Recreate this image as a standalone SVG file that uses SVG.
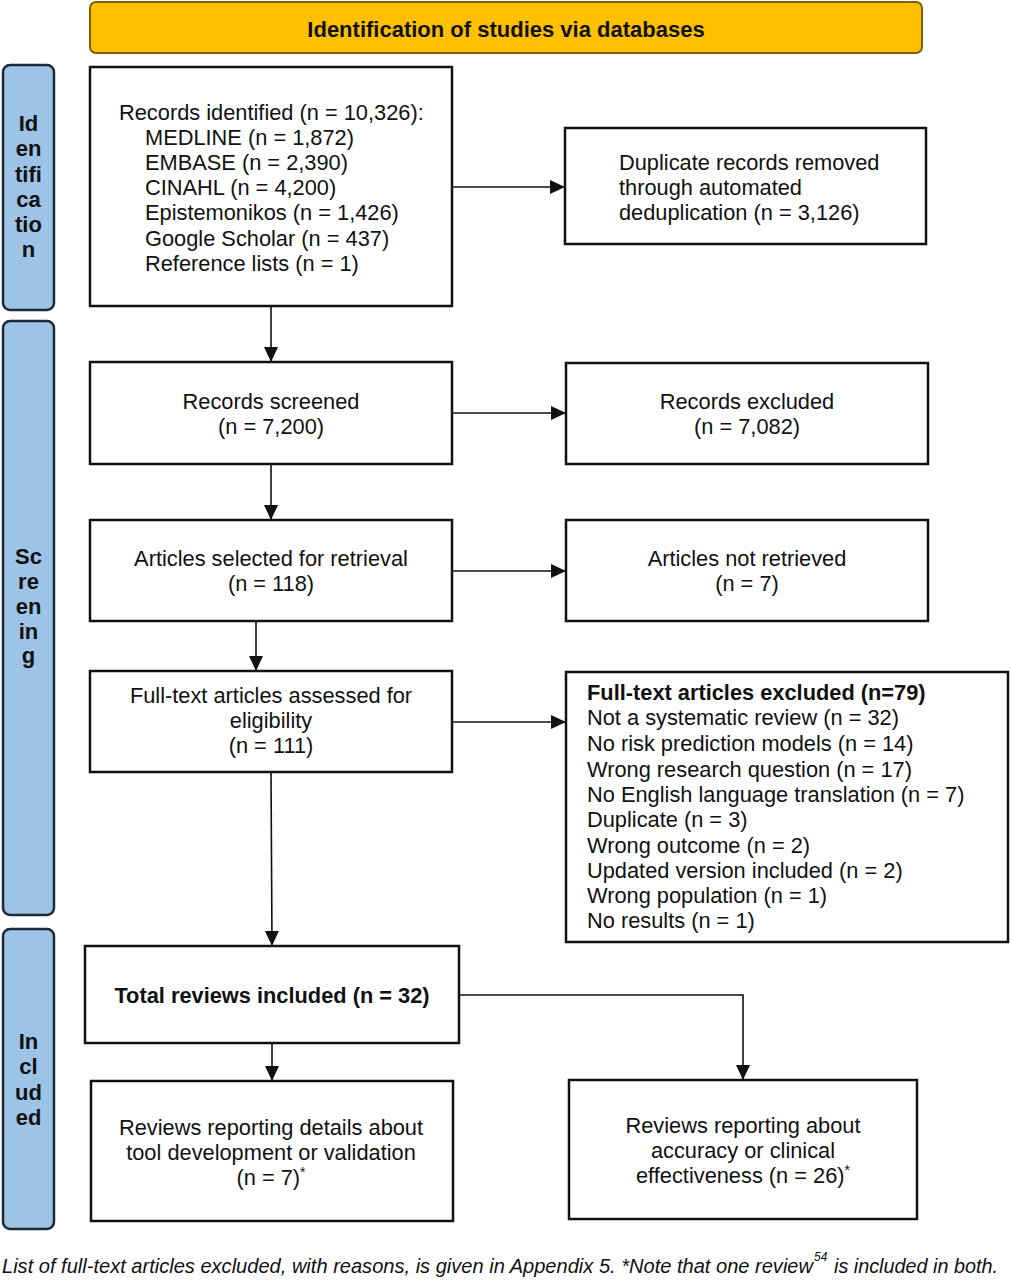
<svg xmlns="http://www.w3.org/2000/svg" width="1011" height="1280" viewBox="0 0 1011 1280">
<style>
  .box { fill: #ffffff; stroke: #111111; stroke-width: 2.5; }
  .side { fill: #9DC3E6; stroke: #1E2A38; stroke-width: 2.5; }
  .hdr { fill: #FFC000; stroke: #7F6000; stroke-width: 2; }
  .t { font-family: "Liberation Sans", Arial, sans-serif; font-size: 21.8px; fill: #111111; }
  .c { text-anchor: middle; }
  .b { font-weight: bold; }
  .sl { font-family: "Liberation Sans", Arial, sans-serif; font-size: 22px; font-weight: bold; fill: #111111; text-anchor: middle; }
  .conn { fill: none; stroke: #111111; stroke-width: 1.6; }
  .fn { font-family: "Liberation Sans", Arial, sans-serif; font-style: italic; font-size: 20px; fill: #111111; }
</style>
<defs>
  <marker id="ah" markerUnits="userSpaceOnUse" markerWidth="16" markerHeight="16" viewBox="0 0 16 16" refX="15" refY="8" orient="auto">
    <path d="M0,1 L15,8 L0,15 Z" fill="#111111"/>
  </marker>
</defs>

<g id="header">
  <rect class="hdr" x="90" y="2" width="832" height="51" rx="6"/>
  <text class="t b c" x="506" y="37" style="font-size:22px">Identification of studies via databases</text>
</g>

<g id="label-identification">
  <rect class="side" x="3" y="65" width="51" height="245" rx="7"/>
  <text class="sl" x="28.5" y="131">Id</text>
  <text class="sl" x="28.5" y="156">en</text>
  <text class="sl" x="28.5" y="182">tifi</text>
  <text class="sl" x="28.5" y="207">ca</text>
  <text class="sl" x="28.5" y="232">tio</text>
  <text class="sl" x="28.5" y="257">n</text>
</g>

<g id="label-screening">
  <rect class="side" x="3" y="321" width="51" height="594" rx="7"/>
  <text class="sl" x="28.5" y="564">Sc</text>
  <text class="sl" x="28.5" y="589">re</text>
  <text class="sl" x="28.5" y="614">en</text>
  <text class="sl" x="28.5" y="639">in</text>
  <text class="sl" x="28.5" y="663">g</text>
</g>

<g id="label-included">
  <rect class="side" x="3" y="929" width="51" height="300" rx="7"/>
  <text class="sl" x="28.5" y="1049">In</text>
  <text class="sl" x="28.5" y="1074">cl</text>
  <text class="sl" x="28.5" y="1100">ud</text>
  <text class="sl" x="28.5" y="1125">ed</text>
</g>

<g id="records-identified">
  <rect class="box" x="90" y="67" width="362" height="239"/>
  <text class="t" x="119" y="120">Records identified (n = 10,326):</text>
  <text class="t" x="145" y="145">MEDLINE (n = 1,872)</text>
  <text class="t" x="145" y="170">EMBASE (n = 2,390)</text>
  <text class="t" x="145" y="195">CINAHL (n = 4,200)</text>
  <text class="t" x="145" y="220">Epistemonikos (n = 1,426)</text>
  <text class="t" x="145" y="246">Google Scholar (n = 437)</text>
  <text class="t" x="145" y="271">Reference lists (n = 1)</text>
</g>

<g id="duplicates-removed">
  <rect class="box" x="565" y="128" width="361" height="116"/>
  <text class="t" x="619" y="170">Duplicate records removed</text>
  <text class="t" x="619" y="195">through automated</text>
  <text class="t" x="619" y="220">deduplication (n = 3,126)</text>
</g>

<g id="records-screened">
  <rect class="box" x="90" y="362" width="362" height="102"/>
  <text class="t c" x="271" y="409">Records screened</text>
  <text class="t c" x="271" y="434">(n = 7,200)</text>
</g>

<g id="records-excluded">
  <rect class="box" x="566" y="363" width="362" height="101"/>
  <text class="t c" x="747" y="409">Records excluded</text>
  <text class="t c" x="747" y="434">(n = 7,082)</text>
</g>

<g id="articles-selected">
  <rect class="box" x="90" y="520" width="362" height="101"/>
  <text class="t c" x="271" y="566">Articles selected for retrieval</text>
  <text class="t c" x="271" y="591">(n = 118)</text>
</g>

<g id="articles-not-retrieved">
  <rect class="box" x="566" y="520" width="362" height="101"/>
  <text class="t c" x="747" y="566">Articles not retrieved</text>
  <text class="t c" x="747" y="591">(n = 7)</text>
</g>

<g id="fulltext-assessed">
  <rect class="box" x="90" y="671" width="362" height="101"/>
  <text class="t c" x="271" y="703">Full-text articles assessed for</text>
  <text class="t c" x="271" y="728">eligibility</text>
  <text class="t c" x="271" y="753">(n = 111)</text>
</g>

<g id="fulltext-excluded">
  <rect class="box" x="566" y="672" width="442" height="270"/>
  <text class="t b" x="587" y="700">Full-text articles excluded (n=79)</text>
  <text class="t" x="587" y="725">Not a systematic review (n = 32)</text>
  <text class="t" x="587" y="751">No risk prediction models (n = 14)</text>
  <text class="t" x="587" y="777">Wrong research question (n = 17)</text>
  <text class="t" x="587" y="802">No English language translation (n = 7)</text>
  <text class="t" x="587" y="827">Duplicate (n = 3)</text>
  <text class="t" x="587" y="853">Wrong outcome (n = 2)</text>
  <text class="t" x="587" y="878">Updated version included (n = 2)</text>
  <text class="t" x="587" y="903">Wrong population (n = 1)</text>
  <text class="t" x="587" y="928">No results (n = 1)</text>
</g>

<g id="total-included">
  <rect class="box" x="85" y="946" width="374" height="97"/>
  <text class="t b c" x="272" y="1003">Total reviews included (n = 32)</text>
</g>

<g id="tool-development">
  <rect class="box" x="91" y="1081" width="362" height="140"/>
  <text class="t c" x="271" y="1135">Reviews reporting details about</text>
  <text class="t c" x="271" y="1160">tool development or validation</text>
  <text class="t c" x="271" y="1185">(n = 7)<tspan font-size="14" dy="-8">*</tspan></text>
</g>

<g id="accuracy-effectiveness">
  <rect class="box" x="569" y="1080" width="348" height="139"/>
  <text class="t c" x="743" y="1133">Reviews reporting about</text>
  <text class="t c" x="743" y="1158">accuracy or clinical</text>
  <text class="t c" x="743" y="1183">effectiveness (n = 26)<tspan font-size="14" dy="-8">*</tspan></text>
</g>

<g id="connectors">
  <line class="conn" x1="452" y1="187" x2="565" y2="187" marker-end="url(#ah)"/>
  <line class="conn" x1="271" y1="306" x2="271" y2="362" marker-end="url(#ah)"/>
  <line class="conn" x1="452" y1="413" x2="566" y2="413" marker-end="url(#ah)"/>
  <line class="conn" x1="271" y1="464" x2="271" y2="520" marker-end="url(#ah)"/>
  <line class="conn" x1="452" y1="571" x2="566" y2="571" marker-end="url(#ah)"/>
  <line class="conn" x1="256" y1="621" x2="256" y2="671" marker-end="url(#ah)"/>
  <line class="conn" x1="452" y1="722" x2="566" y2="722" marker-end="url(#ah)"/>
  <line class="conn" x1="271" y1="772" x2="272" y2="946" marker-end="url(#ah)"/>
  <line class="conn" x1="272" y1="1043" x2="272" y2="1081" marker-end="url(#ah)"/>
  <polyline class="conn" points="459,995 743,995 743,1080" marker-end="url(#ah)"/>
</g>

<g id="footnote">
  <text class="fn" x="2" y="1273" textLength="811" lengthAdjust="spacingAndGlyphs">List of full-text articles excluded, with reasons, is given in Appendix 5. *Note that one review</text>
  <text class="fn" x="814" y="1261" style="font-size:12px">54</text>
  <text class="fn" x="834" y="1273" textLength="164" lengthAdjust="spacingAndGlyphs"> is included in both.</text>
</g>
</svg>
